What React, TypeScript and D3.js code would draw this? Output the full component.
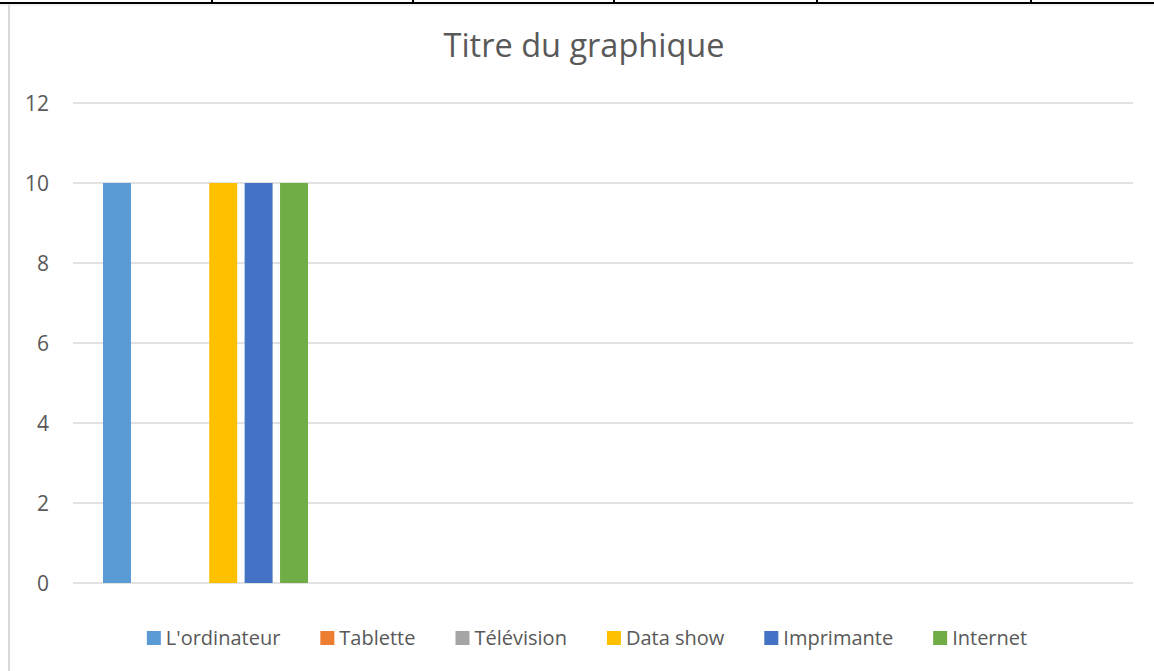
import React, { useEffect, useRef } from 'react';
import * as d3 from 'd3';

// categories (the sheet has 4 rows, only the first is filled)
const categories = ['1', '2', '3', '4'];
const seriesNames = ["L'ordinateur", 'Tablette', 'Télévision', 'Data show', 'Imprimante', 'Internet'];
const seriesColors = ['#5B9BD5', '#ED7D31', '#A5A5A5', '#FFC000', '#4472C4', '#70AD47'];
const seriesValues: (number | null)[][] = [
  [10, null, null, null],
  [0, null, null, null],
  [0, null, null, null],
  [10, null, null, null],
  [10, null, null, null],
  [10, null, null, null],
];
const yTicks = [0, 2, 4, 6, 8, 10, 12];
const tableCols = [212, 413, 614, 817, 1031];

const FONT = '"Open Sans", "Noto Sans", sans-serif';
const TEXT = '#595959';

const App: React.FC = () => {
  const svgRef = useRef<SVGSVGElement>(null);

  useEffect(() => {
    if (!svgRef.current) return;
    const svg = d3.select(svgRef.current);
    svg.selectAll('*').remove();

    const W = 1154, H = 671;
    const plot = { left: 73, right: 1133, top: 103, bottom: 583 };

    // table border left over from the document
    svg.append('line')
      .attr('x1', 9).attr('x2', 9).attr('y1', 4).attr('y2', H)
      .attr('stroke', '#d9d9d9').attr('stroke-width', 2);
    svg.append('line')
      .attr('x1', 0).attr('x2', W).attr('y1', 5).attr('y2', 5)
      .attr('stroke', '#e6e6e6').attr('stroke-width', 1);
    svg.append('line')
      .attr('x1', 0).attr('x2', W).attr('y1', 3).attr('y2', 3)
      .attr('stroke', '#000').attr('stroke-width', 2);
    svg.selectAll('line.col')
      .data(tableCols)
      .enter().append('line')
      .attr('class', 'col')
      .attr('x1', d => d).attr('x2', d => d).attr('y1', 0).attr('y2', 3)
      .attr('stroke', '#000').attr('stroke-width', 2);

    // title
    svg.append('text')
      .attr('x', 584).attr('y', 57)
      .attr('text-anchor', 'middle')
      .style('font-family', FONT).style('font-size', '32.5px')
      .attr('fill', TEXT)
      .text('Titre du graphique');

    const y = d3.scaleLinear().domain([0, 12]).range([plot.bottom, plot.top]);
    const x0 = d3.scaleBand<string>().domain(categories).range([plot.left, plot.right]);
    const x1 = d3.scaleBand<string>()
      .domain(seriesNames)
      .range([30, x0.bandwidth() - 30])
      .paddingInner(0.21);

    // gridlines
    svg.append('g')
      .selectAll('line')
      .data(yTicks)
      .enter().append('line')
      .attr('x1', plot.left).attr('x2', plot.right)
      .attr('y1', d => y(d)).attr('y2', d => y(d))
      .attr('stroke', '#d9d9d9').attr('stroke-width', 1.5);

    svg.append('g')
      .selectAll('text')
      .data(yTicks)
      .enter().append('text')
      .attr('x', 49).attr('y', d => y(d) + 8)
      .attr('text-anchor', 'end')
      .style('font-family', FONT).style('font-size', '21px')
      .attr('fill', TEXT)
      .text(d => d);

    // bars
    seriesNames.forEach((name, si) => {
      svg.append('g')
        .selectAll('rect')
        .data(categories.map((c, ci) => ({ c, v: seriesValues[si][ci] })).filter(d => d.v != null && d.v > 0))
        .enter().append('rect')
        .attr('x', d => (x0(d.c) as number) + (x1(name) as number))
        .attr('width', x1.bandwidth())
        .attr('y', d => y(d.v as number))
        .attr('height', d => y(0) - y(d.v as number))
        .attr('fill', seriesColors[si]);
    });

    // legend, centred
    const gap = 40;
    const legend = svg.append('g');
    const items = legend.selectAll('g')
      .data(seriesNames)
      .enter().append('g');
    items.append('rect')
      .attr('width', 14).attr('height', 14).attr('y', -14)
      .attr('fill', (d, i) => seriesColors[i]);
    items.append('text')
      .attr('x', 19).attr('y', 0)
      .style('font-family', FONT).style('font-size', '20px')
      .attr('fill', TEXT)
      .text(d => d);
    let cx = 0;
    const offsets: number[] = [];
    items.each(function () {
      offsets.push(cx);
      const t = (this as SVGGElement).querySelector('text') as SVGTextElement;
      cx += 19 + t.getComputedTextLength() + gap;
    });
    const total = cx - gap;
    items.attr('transform', (d, i) => `translate(${offsets[i]},0)`);
    legend.attr('transform', `translate(${587 - total / 2},645)`);
  }, []);

  return (
    <svg
      ref={svgRef}
      width={1154}
      height={671}
      style={{ position: 'absolute', left: 0, top: 0, background: '#fff' }}
    />
  );
};

export default App;
